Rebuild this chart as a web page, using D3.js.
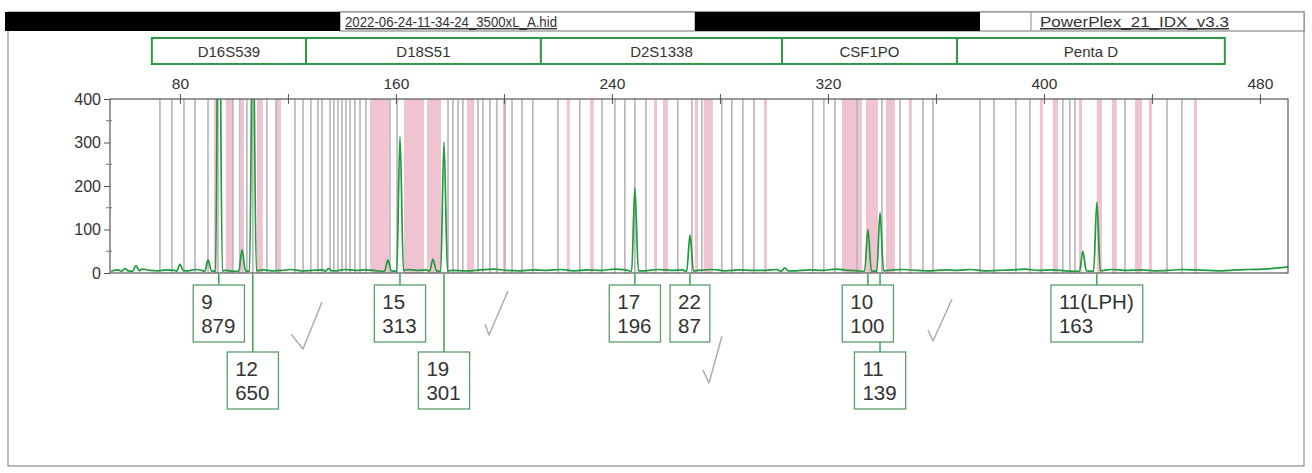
<!DOCTYPE html>
<html><head><meta charset="utf-8">
<script src="https://cdn.jsdelivr.net/npm/d3@7"></script>
<style>body{margin:0;background:#fff} svg{display:block;font-family:"Liberation Sans",Arial,sans-serif}</style>
</head><body><svg id="c" width="1312" height="473"></svg>
<script>
// ---------- data ----------
const headerFile = "2022-06-24-11-34-24_3500xL_A.hid";
const headerKit = "PowerPlex_21_IDX_v3.3";
const markerNames = ["D16S539","D18S51","D2S1338","CSF1PO","Penta D"];
const markerStart = [69.6,126.7,213.7,303.0,367.8];
const markerEnd   = [126.7,213.7,303.0,367.8,467.0];
const xTicks = [80,120,160,200,240,280,320,360,400,440,480];
const xTickLabels = [80,160,240,320,400,480];
const yTicks = [0,100,200,300,400];
const yMinorTicks = [50,150,250,350];
const binLines = [72.6,77.0,81.5,85.6,90.4,94.1,99.6,102.2,104.8,107.0,112.2,115.6,122.6,125.6,128.5,131.1,132.6,135.6,137.0,138.5,140.0,141.5,143.0,144.8,146.7,148.9,157.8,160.4,179.3,181.1,183.0,184.8,190.4,192.2,194.8,197.4,200.4,203.0,206.7,210.7,220.0,228.1,236.3,241.1,244.8,248.5,252.6,264.4,269.6,273.3,280.7,284.4,288.5,292.6,314.4,318.5,322.6,330.7,340.0,346.7,355.2,358.9,376.3,381.5,389.6,394.8,407.0,409.6,411.5,430.0,445.6,451.1];
const binBandStart = [92.6,97.0,102.6,108.5,115.6,150.4,163.0,171.5,186.3,199.6,223.3,231.9,255.6,258.9,270.7,274.0,296.3,325.2,334.1,341.5,350.0,398.5,403.3,413.0,419.6,425.2,433.7,438.9,455.6];
const binBandEnd   = [93.7,99.6,103.7,110.7,117.4,157.4,170.4,176.7,188.9,200.7,224.4,233.3,256.7,260.7,271.9,277.4,297.4,332.6,338.5,344.8,351.1,399.6,405.2,414.1,421.5,427.0,436.3,440.0,456.7];
const alleleNames  = ["9","12","15","19","17","22","10","11","11(LPH)"];
const alleleSize   = [94.4,107.0,161.5,177.8,248.5,268.9,334.8,339.3,419.6];
const alleleHeight = [879,650,313,301,196,87,100,139,163];
const minorPeakSize   = [59.6,63.7,80.0,90.4,103.0,135.0,157.0,173.7,304.0,414.4];
const minorPeakHeight = [10,17,20,30,53,10,30,32,12,50];
const baselineSize = [54.5,57,61,66,69,72,75,78,83,86,88,97,100,111,114,118,121,125,129,133,138,141,145,149,153,164,168,171,181,186,191,196,201,206,211,216,221,226,231,236,241,245,252,257,262,266,272,277,282,287,292,297,301,308,313,318,323,328,331,344,348,353,358,363,368,373,378,383,388,393,398,403,408,425,430,436,441,446,451,456,461,466,471,476,481,486,490.4];
const baselineRfu  = [4,7,5,9,6,5,7,6,5,8,6,6,4,7,5,6,8,5,6,7,5,8,6,7,5,8,6,7,6,5,7,9,6,5,7,6,8,5,7,6,9,7,5,8,6,7,6,8,5,7,6,6,8,5,7,6,9,6,5,7,8,6,5,7,6,8,5,6,7,9,6,7,5,8,6,7,5,6,8,7,6,5,7,8,9,11,14];

// ---------- layout ----------
const svg = d3.select("#c");
const P = {l:110, r:1288, t:99, b:273};
const x = d3.scaleLinear().domain([54.1,490.4]).range([P.l,P.r]);
const y = d3.scaleLinear().domain([0,400]).range([P.b,P.t]);
const GREEN = "#2f9a45", TXT = "#333";

// outer frame
svg.append("rect").attr("x",8).attr("y",12).attr("width",1296).attr("height",454)
  .attr("fill","none").attr("stroke","#8a8a8a").attr("stroke-width",1.2);

// header row
svg.append("rect").attr("x",340).attr("y",12).attr("width",964).attr("height",19)
  .attr("fill","#fff").attr("stroke","#8a8a8a").attr("stroke-width",1.2);
[695,1031].forEach(v=>svg.append("line").attr("x1",v).attr("x2",v).attr("y1",12).attr("y2",31).attr("stroke","#8a8a8a"));
svg.append("rect").attr("x",5).attr("y",12).attr("width",335).attr("height",19).attr("fill","#000");
svg.append("rect").attr("x",695).attr("y",12).attr("width",285).attr("height",19).attr("fill","#000");
svg.append("text").attr("x",345).attr("y",27).attr("font-size",14).attr("fill",TXT)
  .attr("textLength",212).attr("lengthAdjust","spacingAndGlyphs")
  .style("text-decoration","underline").text(headerFile);
svg.append("text").attr("x",1040).attr("y",27).attr("font-size",15).attr("fill",TXT)
  .attr("textLength",189).attr("lengthAdjust","spacingAndGlyphs")
  .style("text-decoration","underline").text(headerKit);

// marker boxes
const mg = svg.append("g");
markerNames.forEach((n,i)=>{
  const x0 = x(markerStart[i]), x1 = x(markerEnd[i]);
  mg.append("rect").attr("x",x0).attr("y",38).attr("width",x1-x0).attr("height",26)
    .attr("fill","#fff").attr("stroke",GREEN).attr("stroke-width",2);
  mg.append("text").attr("x",(x0+x1)/2).attr("y",57).attr("text-anchor","middle")
    .attr("font-size",15).attr("fill",TXT).text(n);
});

// bins
svg.append("clipPath").attr("id","pc").append("rect")
  .attr("x",P.l).attr("y",P.t).attr("width",P.r-P.l).attr("height",P.b-P.t);
const plot = svg.append("g").attr("clip-path","url(#pc)");
plot.selectAll("rect.band").data(binBandStart).join("rect").attr("class","band")
  .attr("x",(d,i)=>x(d)).attr("width",(d,i)=>Math.max(2,x(binBandEnd[i])-x(d)))
  .attr("y",P.t).attr("height",P.b-P.t).attr("fill","#ecb9c7").attr("opacity",0.85);
plot.selectAll("line.bin").data(binLines).join("line").attr("class","bin")
  .attr("x1",d=>x(d)).attr("x2",d=>x(d)).attr("y1",P.t).attr("y2",P.b)
  .attr("stroke","#bab3ba").attr("stroke-width",1.6);

// trace
const pts = [];
const peaks = alleleSize.map((s,i)=>[s,alleleHeight[i]]).concat(minorPeakSize.map((s,i)=>[s,minorPeakHeight[i]]));
baselineSize.forEach((s,i)=>{ if(!peaks.some(p=>Math.abs(p[0]-s)<1.6)) pts.push([s,baselineRfu[i]]); });
peaks.forEach(p=>{ pts.push([p[0]-1.2,4]); pts.push([p[0],p[1]]); pts.push([p[0]+1.3,5]); });
pts.sort((a,b)=>a[0]-b[0]);
plot.append("path").datum(pts).attr("fill","none").attr("stroke","#1f9a3c").attr("stroke-width",1.7)
  .attr("d",d3.line().x(d=>x(d[0])).y(d=>y(d[1])).curve(d3.curveMonotoneX));

// frame of plot
svg.append("rect").attr("x",P.l).attr("y",P.t).attr("width",P.r-P.l).attr("height",P.b-P.t)
  .attr("fill","none").attr("stroke","#555").attr("stroke-width",1.2);

// top axis
const topAxis = svg.append("g").attr("transform",`translate(0,${P.t})`)
  .call(d3.axisTop(x).tickValues(xTicks).tickSize(5).tickFormat(d=>xTickLabels.includes(d)?d:""));
topAxis.select(".domain").remove();
topAxis.selectAll(".tick line").attr("y1",5).attr("y2",-5).attr("stroke","#555");
topAxis.selectAll(".tick text").attr("font-size",15.5).attr("fill",TXT).attr("font-family","Liberation Sans, Arial").attr("dy",-2);

// y axis
const ya = svg.append("g").attr("transform",`translate(${P.l},0)`)
  .call(d3.axisLeft(y).tickValues(yTicks).tickSize(6).tickPadding(3));
ya.select(".domain").remove();
ya.selectAll(".tick line").attr("stroke","#555");
ya.selectAll(".tick text").attr("font-size",16).attr("fill",TXT).attr("font-family","Liberation Sans, Arial");
ya.selectAll("line.minor").data(yMinorTicks).join("line").attr("class","minor")
  .attr("x1",-4).attr("x2",2).attr("y1",d=>y(d)).attr("y2",d=>y(d)).attr("stroke","#777");

// allele labels
const lg = svg.append("g");
const rowTop = [285,352], boxH = 57;
const measure = svg.append("text").attr("font-size",20.5).attr("visibility","hidden");
function tw(s){ measure.text(s); return measure.node().getComputedTextLength(); }
const boxes = alleleNames.map((n,i)=>{
  const w = Math.max(tw(n),tw(String(alleleHeight[i]))) + 17;
  const cx = x(alleleSize[i]);
  return {n, h:alleleHeight[i], cx, x0:cx-w/2, w};
});
let lastRight = -1e9;
boxes.forEach(b=>{ if(b.x0 < lastRight+2){ b.row=1; } else { b.row=0; lastRight=b.x0+b.w; } });
boxes.forEach(b=>{
  lg.append("line").attr("x1",b.cx).attr("x2",b.cx).attr("y1",P.b+1).attr("y2",rowTop[b.row])
    .attr("stroke",GREEN).attr("stroke-width",1.4);
});
boxes.forEach(b=>{
  const yt = rowTop[b.row];
  lg.append("rect").attr("x",b.x0).attr("y",yt).attr("width",b.w).attr("height",boxH)
    .attr("fill","#fff").attr("stroke","#5a9f6b").attr("stroke-width",1.3);
  lg.append("text").attr("x",b.x0+8).attr("y",yt+24).attr("font-size",20.5).attr("fill",TXT).text(b.n);
  lg.append("text").attr("x",b.x0+8).attr("y",yt+48).attr("font-size",20.5).attr("fill",TXT).text(b.h);
});
measure.remove();

// handwritten check marks (annotation)
const checks = [[[291,334],[303,349],[322,302]],[[485,324],[489,335],[508,291]],[[703,370],[709,383],[722,336]],[[928,330],[933,341],[952,299]]];
checks.forEach(c=>svg.append("path").attr("d",d3.line()(c))
  .attr("fill","none").attr("stroke","#adadad").attr("stroke-width",1.5).attr("stroke-linejoin","round"));
</script></body></html>
